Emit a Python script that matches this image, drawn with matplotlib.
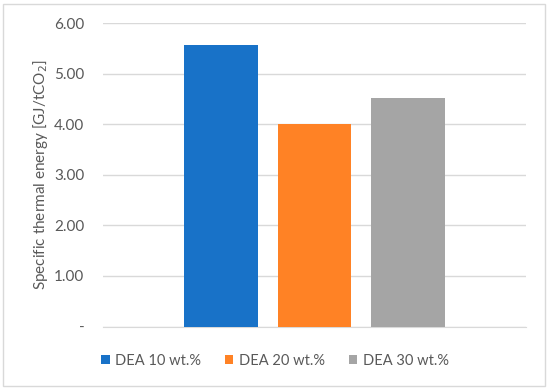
import matplotlib
matplotlib.use("Agg")
import matplotlib.pyplot as plt
from matplotlib.patches import Rectangle

series = ["DEA 10 wt.%", "DEA 20 wt.%", "DEA 30 wt.%"]
values = [5.57, 4.00, 4.52]
colors = ["#1872C8", "#FF8225", "#A5A5A5"]
yticks = [0, 1, 2, 3, 4, 5, 6]
ytick_labels = ["-", "1.00", "2.00", "3.00", "4.00", "5.00", "6.00"]

plt.rcParams["font.family"] = ["Lato", "DejaVu Sans"]
text_col = "#595959"

fig = plt.figure(figsize=(5.5, 3.91), dpi=100)
ax = fig.add_axes([103 / 550, 1 - 326.5 / 391, 423 / 550, (326.5 - 23.3) / 391])

positions = [-1, 0, 1]
for x, v, c, name in zip(positions, values, colors, series):
    ax.bar(x, v, width=0.79, color=c, label=name, zorder=3)

ax.set_xlim(-2.262, 2.262)
ax.set_ylim(0, 6)
ax.set_yticks(yticks)
ax.set_yticklabels(ytick_labels)
ax.set_xticks([])
ax.tick_params(axis="y", length=0, pad=13.5, labelsize=11, labelcolor=text_col)
ax.grid(axis="y", color="#D9D9D9", linewidth=1, zorder=0)
for s in ["top", "right", "left"]:
    ax.spines[s].set_visible(False)
ax.spines["bottom"].set_color("#D9D9D9")
ax.set_ylabel("Specific thermal energy [GJ/tCO$_2$]", fontsize=11, color=text_col, labelpad=3)

fig.legend(loc="center", bbox_to_anchor=(0.5, 1 - 360.7 / 391), ncol=3, frameon=False,
           fontsize=10.5, labelcolor=text_col, handlelength=0.6, handleheight=0.6,
           columnspacing=1.6, handletextpad=0.4)

fig.patches.append(Rectangle((3 / 550, 1 - 386 / 391), 542 / 550, 382 / 391,
                             transform=fig.transFigure, fill=False,
                             edgecolor="#D9D9D9", linewidth=1))

fig.savefig("out.png", dpi=100)
